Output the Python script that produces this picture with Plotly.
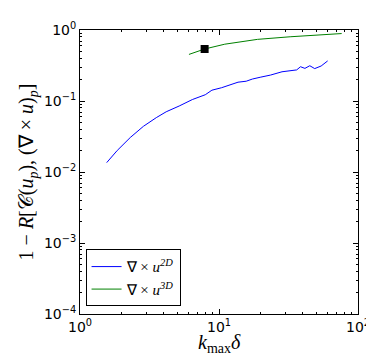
import plotly.graph_objects as go

# curva 2D (azul)
k_2d = [1.556, 1.853, 2.30, 2.86, 3.54, 4.17, 5.17, 6.43, 7.97, 8.89, 10.45, 11.6, 13.7,
        15.7, 17.4, 20.0, 23.5, 28.4, 34.3, 36.2, 38.6, 41.5, 45.0, 48.8, 54.3, 60.5]
r_2d = [0.01355, 0.0201, 0.0306, 0.0440, 0.0583, 0.0705, 0.0850, 0.1048, 0.1226, 0.142,
        0.154, 0.166, 0.184, 0.190, 0.204, 0.217, 0.232, 0.258, 0.271, 0.274, 0.304,
        0.288, 0.314, 0.286, 0.311, 0.367]

# curva 3D (verde)
k_3d = [6.08, 7.88, 11.0, 18.9, 32.5, 50.0, 76.3]
r_3d = [0.453, 0.54, 0.631, 0.738, 0.803, 0.847, 0.891]

# punto marcado
k_mark = [7.88]
r_mark = [0.54]

x_ticks = [1, 10, 100]
x_labels = ['10<sup>0</sup>', '10<sup>1</sup>', '10<sup>2</sup>']
y_ticks = [1e-4, 1e-3, 1e-2, 1e-1, 1]
y_labels = ['10<sup>−4</sup>', '10<sup>−3</sup>', '10<sup>−2</sup>', '10<sup>−1</sup>', '10<sup>0</sup>']

fig = go.Figure()
fig.add_trace(go.Scatter(x=k_2d, y=r_2d, mode='lines', name='∇ × <i>u</i><sup><i>2D</i></sup>',
                         line=dict(color='#0000ff', width=1)))
fig.add_trace(go.Scatter(x=k_3d, y=r_3d, mode='lines', name='∇ × <i>u</i><sup><i>3D</i></sup>',
                         line=dict(color='#008000', width=1)))
fig.add_trace(go.Scatter(x=k_mark, y=r_mark, mode='markers', showlegend=False,
                         marker=dict(symbol='square', size=8, color='black')))

axis_style = dict(type='log', showgrid=False, zeroline=False, showline=True, linecolor='black',
                  linewidth=1, mirror='allticks', ticks='inside', ticklen=5, tickcolor='black',
                  tickfont=dict(family='DejaVu Sans', size=14, color='black'),
                  minor=dict(ticks='inside', ticklen=2, tickcolor='black', dtick='D1', showgrid=False))

fig.update_xaxes(**axis_style, range=[0, 2], tickvals=x_ticks, ticktext=x_labels)
fig.update_yaxes(**axis_style, range=[-4, 0], tickvals=y_ticks, ticktext=y_labels,
                 title=dict(text='1 − <i>R</i>[𝒞(<i>u</i><sub><i>p</i></sub>), (∇ × <i>u</i>)<sub><i>p</i></sub>]',
                            standoff=4, font=dict(family='Liberation Serif', size=20, color='black')))

# título del eje x como anotación para que no se corte
fig.add_annotation(text='<i>k</i><sub>max</sub><i>δ</i>', xref='paper', yref='paper',
                   x=0.5, y=-0.105, xanchor='center', yanchor='middle', showarrow=False,
                   font=dict(family='Liberation Serif', size=20, color='black'))

fig.update_layout(width=374, height=355, template='plotly_white',
                  paper_bgcolor='white', plot_bgcolor='white',
                  margin=dict(l=72, r=18, t=12, b=49),
                  legend=dict(x=0.02, y=0.027, xanchor='left', yanchor='bottom',
                              bgcolor='white', bordercolor='black', borderwidth=1,
                              font=dict(family='Liberation Serif', size=15, color='black')))

fig.write_html('out.html')
